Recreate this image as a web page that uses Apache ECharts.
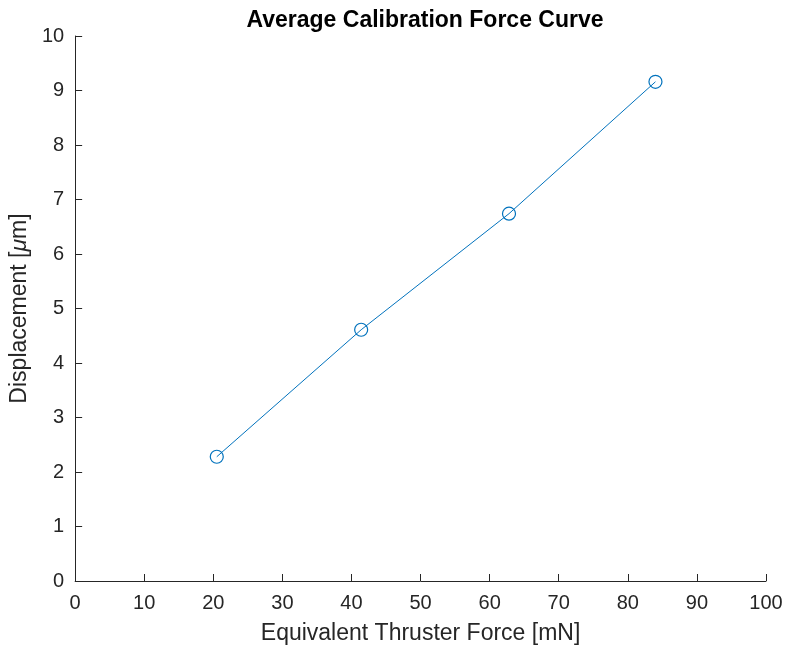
<!doctype html>
<meta charset="utf-8">
<title>Average Calibration Force Curve</title>
<style>
	html, body { margin: 0; padding: 0; background: #fff; }
	#chart { width: 786px; height: 650px; }
</style>
<div id="chart"></div>
<script src="https://cdn.jsdelivr.net/npm/echarts@6/dist/echarts.min.js"></script>
<script>
	const force = [20.5, 41.4, 62.8, 84.0];
	const displacement = [2.28, 4.61, 6.74, 9.16];
	const xTicks = [0, 10, 20, 30, 40, 50, 60, 70, 80, 90, 100];
	const yTicks = [0, 1, 2, 3, 4, 5, 6, 7, 8, 9, 10];

	const FONT = '"Liberation Sans", Arial, Helvetica, sans-serif';
	const INK = '#262626';
	const BLUE = '#0072BD';

	var points = force.map(function (f, i) { return [f, displacement[i]]; });

	const option = {
		animation: false,
		title: {
			text: 'Average Calibration Force Curve',
			left: 420, top: 4, textAlign: 'center',
			textStyle: { fontFamily: FONT, fontSize: 23, fontWeight: 'bold', color: '#000' }
		},
		grid: { left: 75, right: 20, top: 36, bottom: 69, containLabel: false },
		xAxis: {
			type: 'value',
			min: xTicks[0], max: xTicks[xTicks.length - 1], interval: 10,
			name: 'Equivalent Thruster Force [mN]',
			nameLocation: 'middle', nameGap: 41,
			nameTextStyle: { fontFamily: FONT, fontSize: 23, color: INK },
			axisLine: { lineStyle: { color: INK, width: 1 } },
			axisTick: { inside: true, length: 7, lineStyle: { color: INK } },
			axisLabel: { fontFamily: FONT, fontSize: 20, color: INK, margin: 12 },
			splitLine: { show: false }
		},
		yAxis: {
			type: 'value',
			min: yTicks[0], max: yTicks[yTicks.length - 1], interval: 1,
			name: '{n|Displacement [}{mu|μ}{n|m]}',
			nameLocation: 'middle', nameGap: 43, nameRotate: 90,
			nameTextStyle: {
				fontFamily: FONT, fontSize: 23, color: INK,
				rich: {
					n: { fontFamily: FONT, fontSize: 23, color: INK },
					mu: { fontFamily: FONT, fontSize: 23, color: INK, fontStyle: 'italic' }
				}
			},
			axisLine: { show: true, lineStyle: { color: INK, width: 1 } },
			axisTick: { show: true, inside: true, length: 7, lineStyle: { color: INK } },
			axisLabel: { fontFamily: FONT, fontSize: 20, color: INK, margin: 11 },
			splitLine: { show: false }
		},
		series: [{
			type: 'line',
			data: points,
			symbol: 'circle',
			symbolSize: 13,
			showAllSymbol: true,
			lineStyle: { color: BLUE, width: 1 },
			itemStyle: { color: 'rgba(0,0,0,0)', borderColor: BLUE, borderWidth: 1.2 },
			z: 3
		}]
	};
	var chart = echarts.init(document.getElementById('chart'));
	chart.setOption(option);
</script>
